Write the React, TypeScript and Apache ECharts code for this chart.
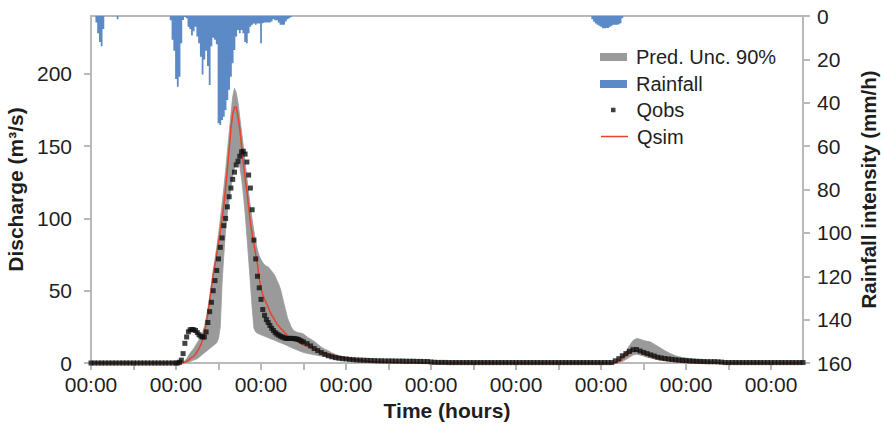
import React, { useEffect, useRef } from "react";
import * as echarts from "echarts";

// ---------- axis ticks / labels ----------
const X_MAJOR_TICKS = [0, 24, 48, 72, 96, 120, 144, 168, 192];
const X_ALL_TICKS = [0, 12, 24, 36, 48, 60, 72, 84, 96, 108, 120, 132, 144, 156, 168, 180, 192];
const X_TICK_LABEL = "00:00";
const Q_TICKS = [0, 50, 100, 150, 200];
const RAIN_TICKS = [0, 20, 40, 60, 80, 100, 120, 140, 160];

// ---------- discharge time segments (hours) ----------
// segment A: hourly from 0 h, segment B: half-hourly from 24.5 h, segment C: hourly from 61 h
const SEG_A = { start: 0, step: 1 };
const SEG_B = { start: 24.5, step: 0.5 };
const SEG_C = { start: 61, step: 1 };

// Observed discharge Qobs (m3/s)
const qobsA = [0, 0, 0, 0, 0, 0, 0, 0, 0, 0, 0, 0, 0, 0, 0, 0, 0, 0, 0, 0, 0, 0, 0, 0, 0];
const qobsB = [
  0, 0.5, 2, 6.5, 13.6, 18, 21.6, 23, 23.2, 23,
  22.5, 21, 19.5, 18.5, 18, 18, 21.5, 28, 35.5, 42,
  50, 57, 64, 72, 80, 86.5, 95, 100, 108, 115,
  121, 127, 132, 137, 139.5, 143, 146, 146.5, 144.5, 139,
  130, 121, 106, 85, 72, 60, 52, 44, 37, 33,
  30, 28, 26, 24, 22.5, 21, 20, 19.3, 18.5, 18,
  17.5, 17, 17, 17, 17, 17, 16.8, 16.6, 16.3, 15.7,
  15, 14.5,
];
const qobsC = [
  13.4, 11.8, 10, 8.6, 7.2, 6, 5, 4.3, 3.7, 3.3,
  3, 2.8, 2.5, 2.3, 2.1, 2, 1.9, 1.8, 1.7, 1.6,
  1.5, 1.5, 1.4, 1.4, 1.4, 1.3, 1.3, 1.3, 1.2, 1.2,
  1.2, 1.1, 1.1, 1, 1, 0.7, 0.5, 0.4, 0.4, 0.4,
  0.3, 0.3, 0.3, 0.3, 0.3, 0.3, 0.3, 0.3, 0.3, 0.3,
  0.3, 0.3, 0.3, 0.3, 0.3, 0.3, 0.3, 0.3, 0.3, 0.3,
  0.3, 0.3, 0.3, 0.3, 0.3, 0.3, 0.3, 0.3, 0.3, 0.3,
  0.3, 0.3, 0.3, 0.3, 0.3, 0.3, 0.3, 0.3, 0.3, 0.3,
  0.3, 0.3, 0.3, 0.3, 0.3, 0.3, 0.3, 1.5, 3, 5,
  6.5, 8, 9.2, 9.3, 8.3, 7.3, 6.5, 5.6, 4.8, 4,
  3.5, 3.1, 2.8, 2.5, 2.2, 2, 1.8, 1.6, 1.4, 1.3,
  1.2, 1.1, 1, 0.9, 0.9, 0.9, 0.8, 0.6, 0.3, 0.3,
  0.3, 0.3, 0.3, 0.3, 0.3, 0.3, 0.3, 0.3, 0.3, 0.3,
  0.3, 0.3, 0.3, 0.3, 0.3, 0.3, 0.3, 0.3, 0.3, 0.3,
  0.3,
];

// Simulated discharge Qsim (m3/s)
const qsimA = [0, 0, 0, 0, 0, 0, 0, 0, 0, 0, 0, 0, 0, 0, 0, 0, 0, 0, 0, 0, 0, 0, 0, 0, 0];
const qsimB = [
  0, 0, 0, 0, 0.5, 1, 2, 3, 4, 4.6,
  6, 8, 10, 12.5, 16, 21, 27, 34, 43, 52,
  61, 68, 75, 83, 91, 100, 109, 121, 134, 148,
  162, 172, 177, 177, 170, 162, 150, 138, 128, 119,
  108, 97, 89, 82, 75, 68, 58, 52, 47, 44,
  41.5, 38.5, 35.5, 33, 31.5, 29, 27, 25.5, 24, 23,
  21.5, 20, 19, 18, 17, 16.5, 16, 15.5, 15, 14,
  13.2, 12.5,
];
const qsimC = [
  11.5, 10.5, 9.5, 8.7, 7.8, 7, 6.2, 5.5, 5, 4.5,
  4, 3.5, 3.1, 2.7, 2.3, 2, 1.6, 1.3, 1.1, 0.9,
  0.8, 0.6, 0.5, 0.4, 0.4, 0.3, 0.3, 0.2, 0.2, 0.2,
  0.1, 0.1, 0.1, 0.1, 0.1, 0, 0, 0, 0, 0,
  0, 0, 0, 0, 0, 0, 0, 0, 0, 0,
  0, 0, 0, 0, 0, 0, 0, 0, 0, 0,
  0, 0, 0, 0, 0, 0, 0, 0, 0, 0,
  0, 0, 0, 0, 0, 0, 0, 0, 0, 0,
  0, 0, 0, 0, 0, 0, 0, 0, 1, 3,
  5, 6.8, 8.2, 8.5, 7.8, 6.8, 5.8, 5, 4.2, 3.5,
  3, 2.5, 2, 1.6, 1.3, 1, 0.8, 0.6, 0.4, 0.3,
  0.2, 0.1, 0, 0, 0, 0, 0, 0, 0, 0,
  0, 0, 0, 0, 0, 0, 0, 0, 0, 0,
  0, 0, 0, 0, 0, 0, 0, 0, 0, 0,
  0,
];

// 90% predictive uncertainty band: upper bound
const bandHiA = [0, 0, 0, 0, 0, 0, 0, 0, 0, 0, 0, 0, 0, 0, 0, 0, 0, 0, 0, 0, 0, 0, 0, 0, 0];
const bandHiB = [
  0, 0, 0, 0.5, 1.5, 3, 5, 7, 8.5, 10,
  12, 14, 16, 18.5, 21, 25, 31, 38, 46, 55,
  64, 72, 80, 89, 99, 110, 121, 133, 146, 159,
  172, 184, 190, 187, 180, 170, 160, 150, 139, 128,
  118, 108, 99, 91, 84, 78, 74, 71.5, 69.5, 68,
  67, 66.5, 65, 63.5, 62, 60, 57, 54.5, 51, 46,
  41, 36, 31, 28, 25, 23, 22, 21.5, 21, 20.7,
  20.5, 20,
];
const bandHiC = [
  18, 16.5, 15, 13, 11, 9.5, 8.5, 7, 6, 5,
  4.2, 3.5, 3, 2.5, 2.1, 1.8, 1.5, 1.2, 1, 0.9,
  0.8, 0.7, 0.6, 0.5, 0.5, 0.4, 0.4, 0.3, 0.3, 0.2,
  0.2, 0.2, 0.1, 0.1, 0.1, 0, 0, 0, 0, 0,
  0, 0, 0, 0, 0, 0, 0, 0, 0, 0,
  0, 0, 0, 0, 0, 0, 0, 0, 0, 0,
  0, 0, 0, 0, 0, 0, 0, 0, 0, 0,
  0, 0, 0, 0, 0, 0, 0, 0, 0, 0,
  0, 0, 0, 0, 0, 0, 0, 0.5, 2, 5,
  8, 12, 15.5, 17, 16.5, 15.5, 15, 14.5, 13, 11.5,
  10, 8.5, 7.2, 6, 5, 4.3, 3.8, 3.4, 3.1, 2.7,
  2.3, 1.9, 1.5, 1.2, 0.9, 0.7, 0.5, 0.3, 0.1, 0,
  0, 0, 0, 0, 0, 0, 0, 0, 0, 0,
  0, 0, 0, 0, 0, 0, 0, 0, 0, 0,
  0,
];
// 90% predictive uncertainty band: lower bound
const bandLoA = [0, 0, 0, 0, 0, 0, 0, 0, 0, 0, 0, 0, 0, 0, 0, 0, 0, 0, 0, 0, 0, 0, 0, 0, 0];
const bandLoB = [
  0, 0, 0, 0, 0, 0.3, 0.6, 1, 1.5, 2,
  2.5, 3, 4, 5, 6, 7, 8, 9, 10, 11,
  12, 13, 14, 17, 25, 55, 75, 92, 104, 113,
  121, 129, 135, 139, 140, 136, 128, 117, 104, 88,
  72, 55, 38, 24, 21.5, 20.5, 20, 19.5, 19, 18.5,
  18, 17.5, 17, 16.5, 16, 15.5, 15, 14.5, 14, 13.5,
  13, 12.5, 12, 11.3, 10.8, 10.2, 9.7, 9.2, 8.7, 8.2,
  7.7, 7.2,
];
const bandLoC = [
  6.7, 6.2, 5.7, 5.2, 4.8, 4.4, 4, 3.5, 3, 2.6,
  2.3, 2, 1.8, 1.5, 1.3, 1.1, 0.9, 0.8, 0.7, 0.6,
  0.5, 0.5, 0.4, 0.4, 0.3, 0.3, 0.2, 0.2, 0.1, 0.1,
  0, 0, 0, 0, 0, 0, 0, 0, 0, 0,
  0, 0, 0, 0, 0, 0, 0, 0, 0, 0,
  0, 0, 0, 0, 0, 0, 0, 0, 0, 0,
  0, 0, 0, 0, 0, 0, 0, 0, 0, 0,
  0, 0, 0, 0, 0, 0, 0, 0, 0, 0,
  0, 0, 0, 0, 0, 0, 0, 0, 0.3, 1,
  2.5, 4, 5.5, 6, 5.5, 4.8, 4, 3.4, 2.8, 2.3,
  1.9, 1.5, 1.2, 0.9, 0.6, 0.4, 0.2, 0.1, 0, 0,
  0, 0, 0, 0, 0, 0, 0, 0, 0, 0,
  0, 0, 0, 0, 0, 0, 0, 0, 0, 0,
  0, 0, 0, 0, 0, 0, 0, 0, 0, 0,
  0,
];

// ---------- rainfall intensity (mm/h), half-hourly ----------
const RAIN1 = { start: 0, step: 0.5 };
const rain1 = [
  0, 0, 0, 3, 8, 12, 14, 6, 0, 0,
  0, 0, 0, 0, 0, 1.5, 0, 0, 0, 0,
  0, 0, 0, 0, 0, 0, 0, 0, 0, 0,
  0, 0, 0, 0, 0, 0, 0, 0, 0, 0,
  0, 0, 0, 0, 0, 2, 11, 16, 29, 32.6,
  28, 12.6, 1.8, 0.5, 1, 5, 6, 9, 7, 5,
  9.5, 12.6, 18.8, 27, 20, 16, 23, 31.8, 14, 10,
  11, 13, 49.5, 50.3, 48, 46.4, 43.3, 38.7, 34, 28,
  21.8, 15.7, 9.5, 6.5, 8, 6.5, 8, 12, 12.6, 8,
  5, 4, 3.5, 4, 3.5, 3.5, 12.6, 3.4, 3, 3,
  3, 3, 2.5, 1.5, 2, 2, 3, 4, 4, 4,
  2.5, 1.5, 1, 0.5, 0,
];
const RAIN2 = { start: 132, step: 0.5 };
const rain2 = [
  0, 0, 0, 0, 0, 0, 0, 0, 0, 0,
  0, 0, 0, 0, 0, 0, 0, 0, 0, 1.5,
  2.6, 3.5, 4, 4.5, 5, 5.7, 5.7, 5.5, 5.5, 5,
  4.5, 4, 4, 4, 3.8, 3.4, 1, 0, 0, 0,
  0, 0, 0, 0, 0, 0, 0, 0, 0, 0,
  0,
];

// ---------- style ----------
const FONT = "'Liberation Sans', Arial, Helvetica, sans-serif";
const TXT = "#1e1e1e";
const AXIS = "#b9b9b9";
const GRAY = "#9a9a9a";
const BLUE = "#5b8ac6";
const RED = "#e8412c";
const BLACK = "#111111";

type Seg = { start: number; step: number };
const pairs = (seg: Seg, vals: number[]) => vals.map((v, i) => [seg.start + i * seg.step, v]);
const threeSeg = (a: number[], b: number[], c: number[]) => [
  ...pairs(SEG_A, a),
  ...pairs(SEG_B, b),
  ...pairs(SEG_C, c),
];

export default function App() {
  const ref = useRef<HTMLDivElement>(null);

  useEffect(() => {
    if (!ref.current) return;
    const chart = echarts.init(ref.current, null, { renderer: "svg" });

    const obs = threeSeg(qobsA, qobsB, qobsC);
    const sim = threeSeg(qsimA, qsimB, qsimC);
    const lo = threeSeg(bandLoA, bandLoB, bandLoC);
    const hi = threeSeg(bandHiA, bandHiB, bandHiC);

    const legendCommon = {
      orient: "vertical",
      padding: 0,
      selectedMode: false,
      textStyle: { fontSize: 20, color: TXT, fontFamily: FONT, lineHeight: 20, padding: [0, 0, 0, 4] },
    };

    const option: any = {
      animation: false,
      textStyle: { fontFamily: FONT },
      grid: {
        left: 91,
        right: 78,
        top: 16,
        bottom: 65,
        show: true,
        borderColor: AXIS,
        borderWidth: 2,
        backgroundColor: "transparent",
        outerBoundsMode: "none",
      },
      legend: [
        {
          ...legendCommon,
          left: 600,
          top: 47,
          itemWidth: 27,
          itemHeight: 8,
          data: [{ name: "Pred. Unc. 90%", icon: "rect", itemStyle: { color: GRAY } }],
        },
        {
          ...legendCommon,
          left: 600,
          top: 74,
          itemWidth: 27,
          itemHeight: 8,
          data: [{ name: "Rainfall", icon: "rect", itemStyle: { color: BLUE } }],
        },
        {
          ...legendCommon,
          left: 611,
          top: 100,
          itemWidth: 4.5,
          itemHeight: 4.5,
          textStyle: { ...legendCommon.textStyle, padding: [0, 0, 0, 16] },
          data: [{ name: "Qobs", icon: "rect", itemStyle: { color: BLACK } }],
        },
        {
          ...legendCommon,
          left: 601,
          top: 126.5,
          itemWidth: 27,
          itemHeight: 1.5,
          data: [{ name: "Qsim", icon: "rect", itemStyle: { color: RED } }],
        },
      ],
      xAxis: {
        type: "value",
        min: 0,
        max: 201,
        interval: 24,
        name: "Time (hours)",
        nameLocation: "middle",
        nameGap: 36,
        nameTextStyle: { fontSize: 21, fontWeight: "bold", color: TXT, fontFamily: FONT },
        axisLine: { show: true, lineStyle: { color: AXIS, width: 2 } },
        axisTick: { show: true, customValues: X_ALL_TICKS, length: 7, lineStyle: { color: AXIS, width: 2 } },
        axisLabel: {
          customValues: X_MAJOR_TICKS,
          formatter: () => X_TICK_LABEL,
          fontSize: 21,
          color: TXT,
          margin: 11,
          fontFamily: FONT,
        },
        splitLine: { show: false },
      },
      yAxis: [
        {
          type: "value",
          position: "left",
          min: 0,
          max: 240,
          interval: 50,
          name: "Discharge (m³/s)",
          nameLocation: "middle",
          nameRotate: 90,
          nameGap: 62,
          nameTextStyle: { fontSize: 21, fontWeight: "bold", color: TXT, fontFamily: FONT },
          axisLine: { show: true, lineStyle: { color: AXIS, width: 2 } },
          axisTick: { show: true, customValues: Q_TICKS, length: 7, lineStyle: { color: AXIS, width: 2 } },
          axisLabel: { customValues: Q_TICKS, fontSize: 21, color: TXT, margin: 19, fontFamily: FONT },
          splitLine: { show: false },
        },
        {
          type: "value",
          position: "right",
          min: 0,
          max: 160,
          interval: 20,
          inverse: true,
          name: "Rainfall intensity (mm/h)",
          nameLocation: "middle",
          nameRotate: 90,
          nameGap: 55,
          nameMoveOverlap: false,
          nameTextStyle: { fontSize: 20.5, fontWeight: "bold", color: TXT, fontFamily: FONT },
          axisLine: { show: true, lineStyle: { color: AXIS, width: 2 } },
          axisTick: { show: true, customValues: RAIN_TICKS, length: 7, lineStyle: { color: AXIS, width: 2 } },
          axisLabel: { customValues: RAIN_TICKS, fontSize: 21, color: TXT, margin: 14, fontFamily: FONT },
          splitLine: { show: false },
        },
      ],
      series: [
        {
          name: "Pred. Unc. 90%",
          type: "custom",
          data: [[0, 0]],
          silent: true,
          clip: true,
          itemStyle: { color: GRAY },
          z: 1,
          renderItem: (params: any, api: any) => {
            if (params.dataIndex !== 0) return null;
            const upper = hi.map((p) => api.coord(p));
            const lower = lo.slice().reverse().map((p) => api.coord(p));
            return {
              type: "polygon",
              shape: { points: upper.concat(lower) },
              style: { fill: GRAY, stroke: GRAY, lineWidth: 0.8 },
            };
          },
        },
        {
          name: "Rainfall",
          type: "line",
          yAxisIndex: 1,
          step: "middle",
          data: pairs(RAIN1, rain1),
          symbol: "none",
          lineStyle: { width: 0, opacity: 0 },
          areaStyle: { color: BLUE, opacity: 1 },
          itemStyle: { color: BLUE },
          z: 2,
        },
        {
          name: "Rainfall",
          type: "line",
          yAxisIndex: 1,
          step: "middle",
          data: pairs(RAIN2, rain2),
          symbol: "none",
          lineStyle: { width: 0, opacity: 0 },
          areaStyle: { color: BLUE, opacity: 1 },
          itemStyle: { color: BLUE },
          z: 2,
        },
        {
          name: "Qsim",
          type: "line",
          data: sim,
          symbol: "none",
          lineStyle: { color: RED, width: 1.5 },
          itemStyle: { color: RED },
          z: 3,
        },
        {
          name: "Qobs",
          type: "scatter",
          data: obs,
          symbol: "rect",
          symbolSize: 5,
          itemStyle: { color: BLACK },
          z: 4,
        },
      ],
    };

    chart.setOption(option);
    return () => chart.dispose();
  }, []);

  return (
    <div
      ref={ref}
      style={{ position: "absolute", left: 0, top: 0, width: 881, height: 428, background: "#ffffff" }}
    />
  );
}
